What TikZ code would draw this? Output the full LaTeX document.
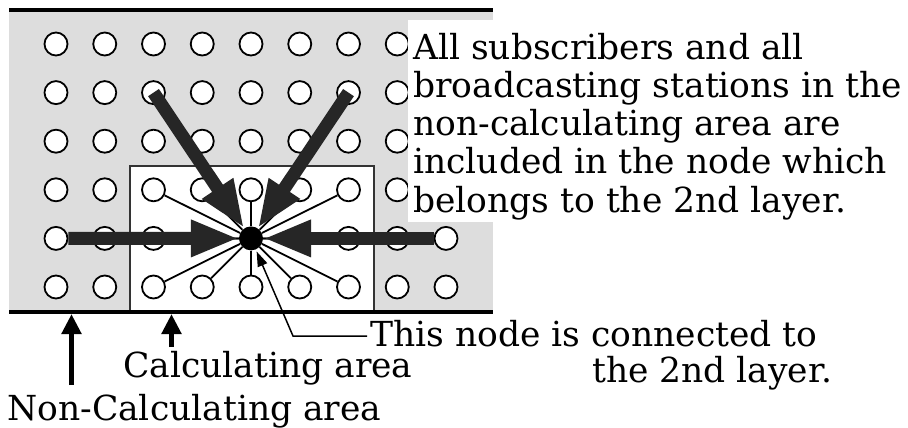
\documentclass[tikz,border=0pt]{standalone}
\usepackage{fontspec}
\setmainfont{DejaVu Serif}
\usetikzlibrary{arrows.meta}
\definecolor{areagray}{HTML}{DDDDDD}
\definecolor{arrowgray}{HTML}{262626}
\definecolor{boxedge}{HTML}{333333}
\begin{document}
\begin{tikzpicture}[x=1pt,y=-1pt,
  stn/.style={circle,draw=black,fill=white,line width=1.8pt,minimum size=23pt,inner sep=0pt},
  hubnode/.style={circle,fill=black,minimum size=24pt,inner sep=0pt},
  spoke/.style={line width=1.8pt},
  bigarrow/.style={line width=13pt,draw=arrowgray,-{Triangle[length=48pt,width=34pt,fill=arrowgray]}},
  leader/.style={line width=1.5pt,-{Triangle[length=15pt,width=10pt]},shorten >=2pt},
  ptr/.style={line width=5.5pt,-{Triangle[length=20pt,width=19pt]}},
  lbl/.style={inner sep=0pt,font=\fontsize{34.5}{38.25}\selectfont},
  rule/.style={line width=4pt}
]
\useasboundingbox (0,0) rectangle (908,428);
% areas
\fill[areagray] (9,10) rectangle (493,312);
\draw[boxedge,fill=white,line width=1.5pt] (130,312) -- (130,166) -- (374,166) -- (374,312);
% stations
\foreach \i in {1,...,8}{\foreach \j in {1,...,6}{
  \pgfmathtruncatemacro\isHub{(\i==5)&&(\j==5)}
  \ifnum\isHub=0
    \node[stn] (c\i\j) at ({56+48.75*(\i-1)},{44+48.6*(\j-1)}) {};
  \fi
}}
\node[stn] (c95) at (446,238.4) {};
\node[stn] (c96) at (446,287) {};
\node[hubnode] (hub) at (251,238.4) {};
% spokes
\foreach \i/\j in {3/4,4/4,5/4,6/4,7/4,3/5,4/5,6/5,7/5,3/6,4/6,5/6,6/6,7/6}
  \draw[spoke] (hub) -- (c\i\j);
% thick arrows
\draw[bigarrow] (c15) -- (hub);
\draw[bigarrow] (c95) -- (hub);
\draw[bigarrow] (c32.center) -- (hub);
\draw[bigarrow] (c72.center) -- (hub);
% note
\fill[white] (408,20) rectangle (908,222);
\node[lbl,anchor=base west,align=left] (note) at (413,212)
  {All subscribers and all\\broadcasting stations in the\\non-calculating area are\\included in the node which\\belongs to the 2nd layer.};
% rules
\draw[rule] (9,10) -- (493,10);
\draw[rule] (9,312) -- (493,312);
% bottom labels
\node[lbl,anchor=base west] (thisnode) at (370,346) {This node is connected to};
\node[lbl,anchor=base west] (layer) at (592,382) {the 2nd layer.};
\node[lbl,anchor=base west] (calc) at (123,377) {Calculating area};
\node[lbl,anchor=base west] (noncalc) at (7,420) {Non-Calculating area};
\coordinate (bend) at (293,336);
\coordinate (lstart) at ([yshift=10pt,xshift=-3pt]thisnode.base west);
\draw[leader] (lstart) -- (bend) -- (hub);
\coordinate (nctip) at (71.5,314);
\coordinate (nctail) at (71.5,385);
\coordinate (ctip) at (171.5,314);
\coordinate (ctail) at (171.5,347);
\draw[ptr] (nctail) -- (nctip);
\draw[ptr] (ctail) -- (ctip);
\end{tikzpicture}
\end{document}
